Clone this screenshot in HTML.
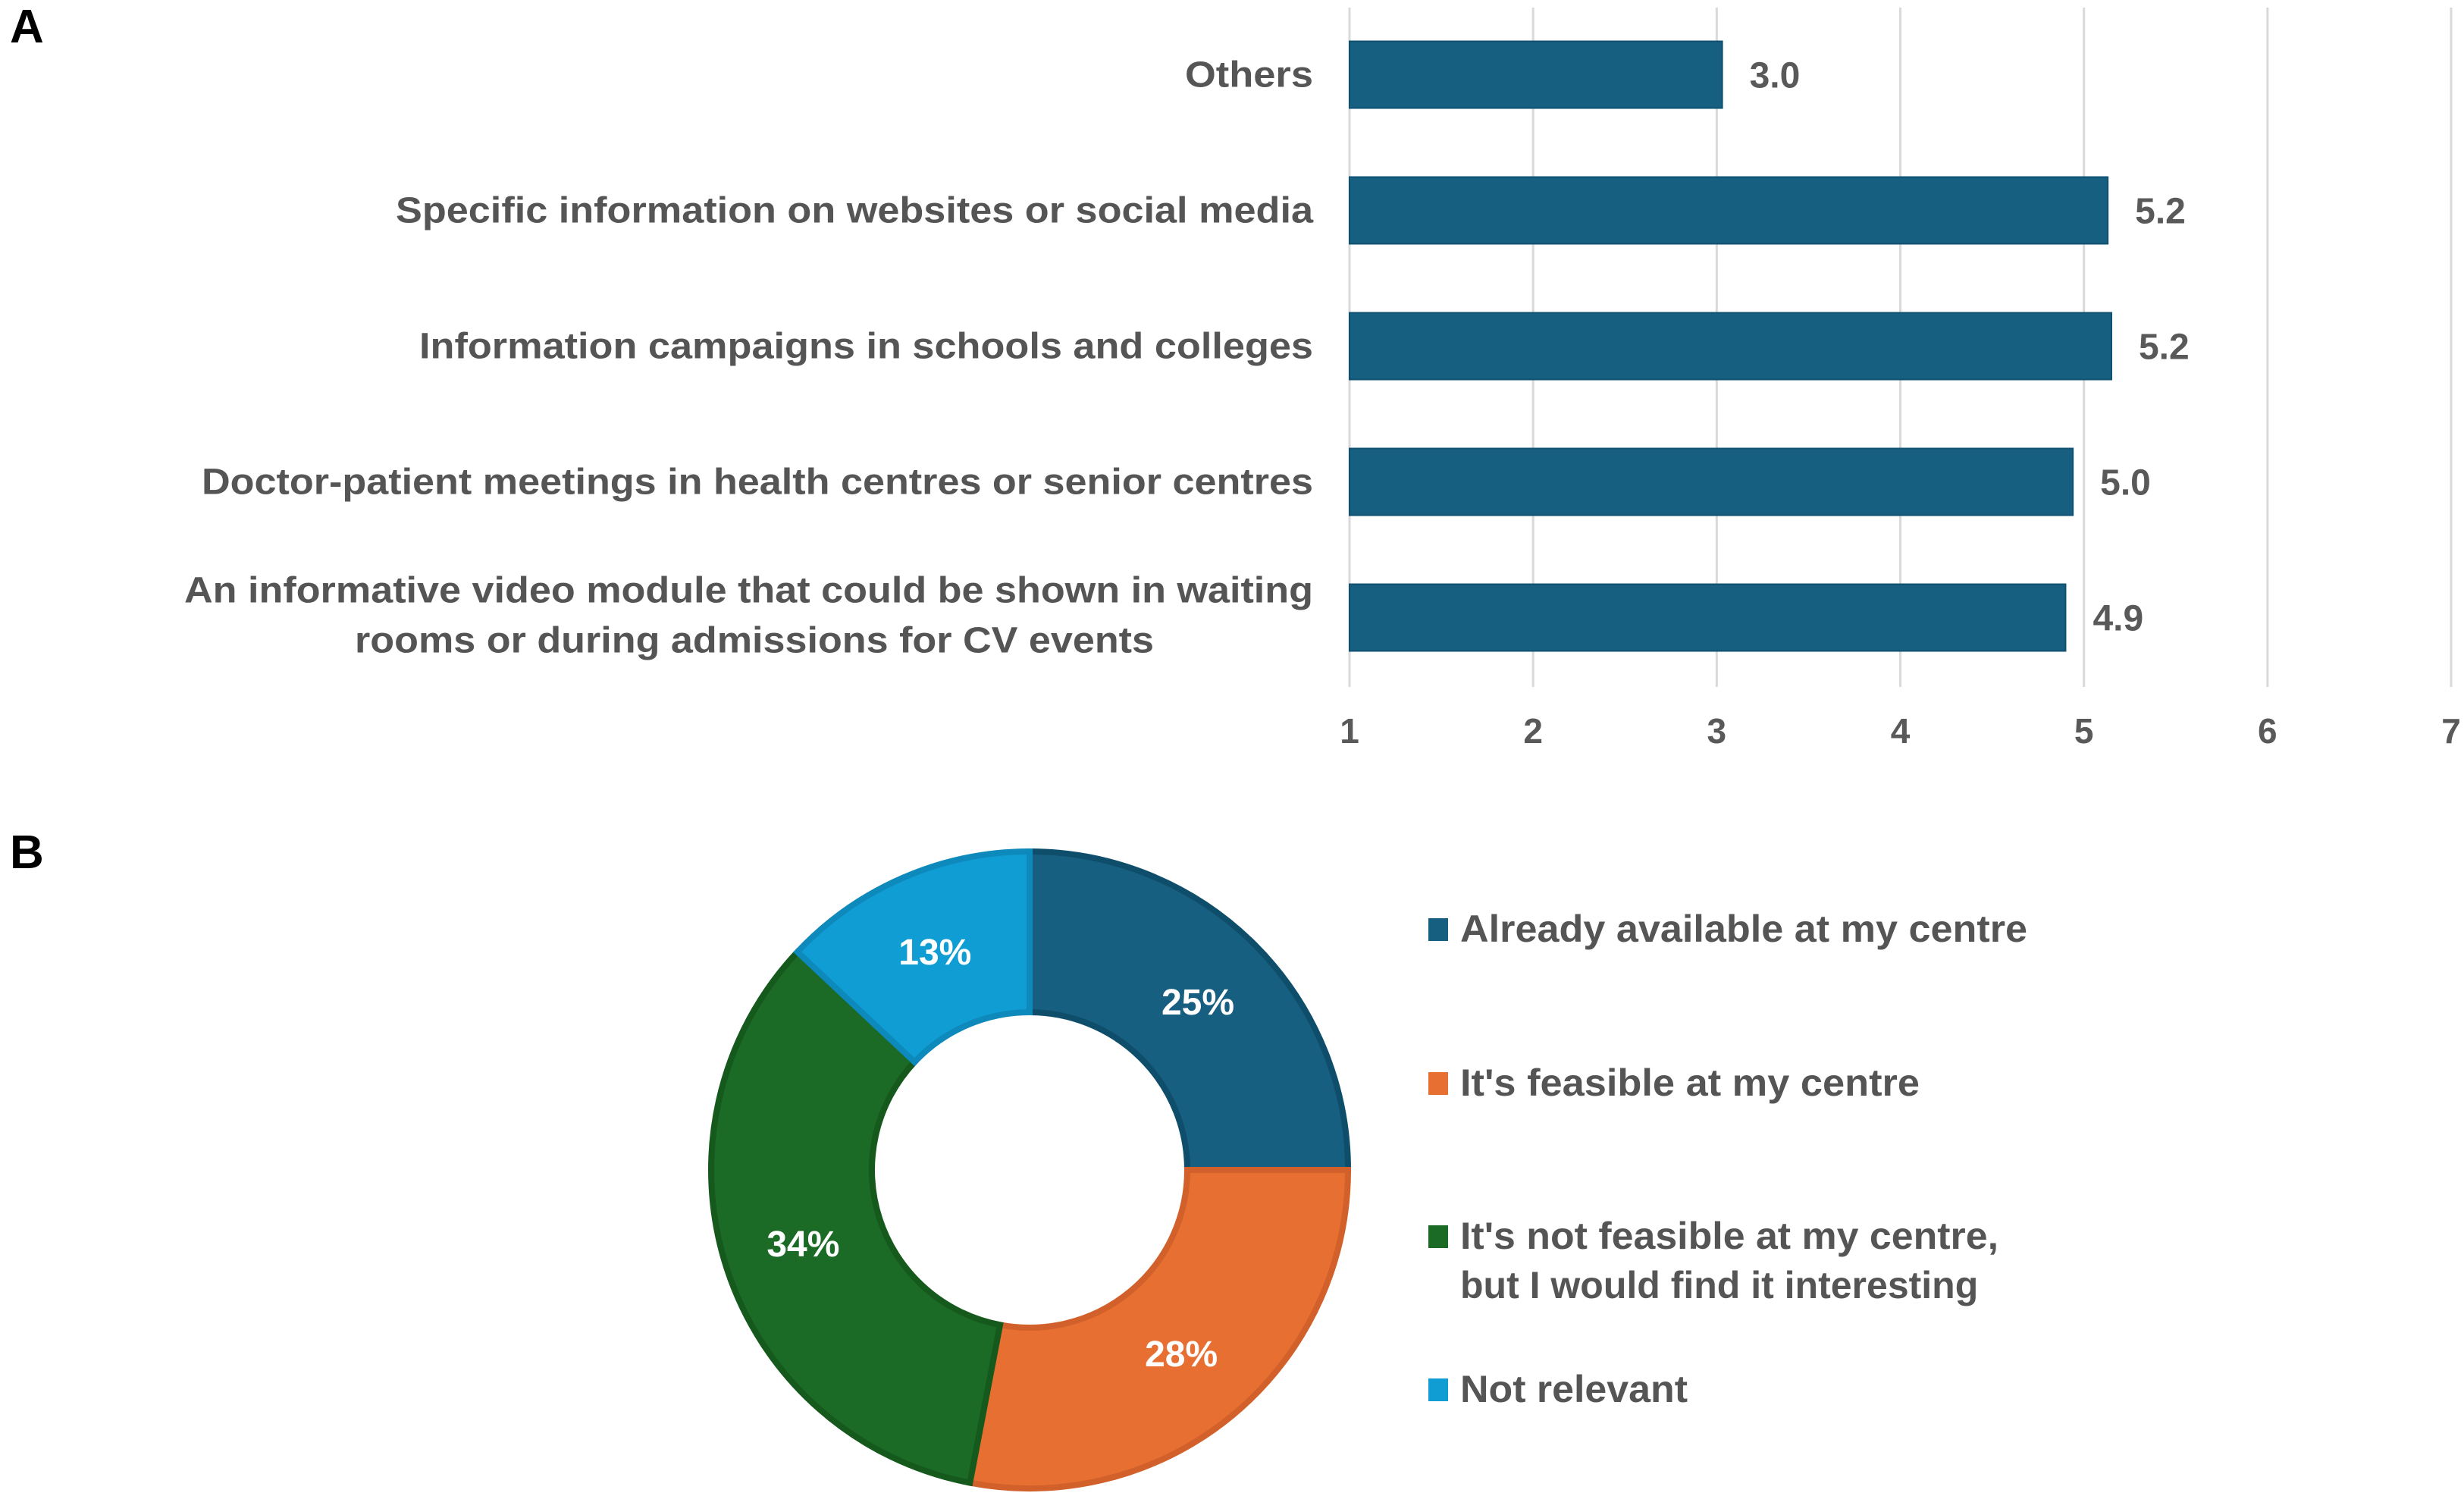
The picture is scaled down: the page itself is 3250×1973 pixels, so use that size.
<!DOCTYPE html>
<html><head><meta charset="utf-8"><style>
html,body{margin:0;padding:0;background:#fff;}
svg{display:block;font-family:"Liberation Sans",Arial,sans-serif;font-weight:bold;}
</style></head><body>
<svg id="chart" width="3250" height="1973" viewBox="0 0 3250 1973">
<text x="13" y="56" font-size="62" fill="#000">A</text>
<text x="13" y="1145" font-size="62" fill="#000">B</text>
<g id="bars"></g>
<g id="donut"></g>
</svg>
<script>
const categories = ["Others","Specific information on websites or social media","Information campaigns in schools and colleges","Doctor-patient meetings in health centres or senior centres","An informative video module that could be shown in waiting|rooms or during admissions for CV events"];
const values = [3.03, 5.13, 5.15, 4.94, 4.90];
const valueLabels = ["3.0","5.2","5.2","5.0","4.9"];
const xTicks = [1,2,3,4,5,6,7];
const shares = [25, 28, 34, 13];
const shareLabels = ["25%","28%","34%","13%"];
const legendLabels = ["Already available at my centre","It's feasible at my centre","It's not feasible at my centre,|  but I would find it interesting","Not relevant"];

const NS="http://www.w3.org/2000/svg";
function mk(tag,attrs,parent){const e=document.createElementNS(NS,tag);for(const k in attrs)e.setAttribute(k,attrs[k]);parent.appendChild(e);return e;}
const bars=document.getElementById('bars');
const x0=1780, x1=3233, xmin=1, xmax=7;
const xs=v=>x0+(v-xmin)/(xmax-xmin)*(x1-x0);
const rowTop=9, rowH=179, barH=88;
const yc=i=>rowTop+rowH*i+rowH/2;
xTicks.forEach(t=>{
  const l=mk('line',{x1:xs(t),x2:xs(t),y1:10,y2:906,stroke:'#d9d9d9','stroke-width':3},bars);
  
  
  const tx=mk('text',{x:xs(t),y:980,'font-size':46,fill:'#595959','text-anchor':'middle'},bars);
  tx.textContent=t;
  
  
});
const labelWidths=[169,1210,1179,1466,1489];
categories.forEach((c,i)=>{
  const y=yc(i);
  const r=mk('rect',{x:xs(1),y:y-barH/2,width:xs(values[i])-xs(1),height:barH,fill:'#175f80',stroke:'#0f5170','stroke-width':2},bars);
  
  
  const v=mk('text',{x:xs(values[i])+36,y:y+17,'font-size':48,fill:'#595959'},bars);
  v.textContent=valueLabels[i];
  
  
  const lines=c.split('|');
  if(lines.length===1){
    const t=mk('text',{x:1732,y:y+16,'font-size':48,fill:'#555','text-anchor':'end',textLength:labelWidths[i],lengthAdjust:'spacingAndGlyphs'},bars);
    t.textContent=c;
    
    
  } else {
    const t1=mk('text',{x:1732,y:y-20,'font-size':48,fill:'#555','text-anchor':'end',textLength:1489,lengthAdjust:'spacingAndGlyphs'},bars);
    t1.textContent=lines[0];
    
    
    const t2=mk('text',{x:995,y:y+46,'font-size':48,fill:'#555','text-anchor':'middle',textLength:1054,lengthAdjust:'spacingAndGlyphs'},bars);
    t2.textContent=lines[1];
    
    
  }
});
// donut
const donut=document.getElementById('donut');
const cx=1358, cy=1543, R=420, r0=208;
const colors=['#175f80','#e76f32','#1b6a25','#0f9dd4'];
const strokes=['#0f4e6b','#d2602a','#15591d','#0d8abb'];
const total=shares.reduce((a,b)=>a+b,0);
let acc=0;
const pt=(a,rad)=>[cx+rad*Math.sin(a),cy-rad*Math.cos(a)];
shares.forEach((s,i)=>{
  const a0=acc/total*2*Math.PI; acc+=s; const a1=acc/total*2*Math.PI;
  const large=(a1-a0)>Math.PI?1:0;
  const p0=pt(a0,R),p1=pt(a1,R),q1=pt(a1,r0),q0=pt(a0,r0);
  const d=`M${p0[0]},${p0[1]} A${R},${R} 0 ${large} 1 ${p1[0]},${p1[1]} L${q1[0]},${q1[1]} A${r0},${r0} 0 ${large} 0 ${q0[0]},${q0[1]} Z`;
  const p=mk('path',{d:d,fill:colors[i],stroke:strokes[i],'stroke-width':8,'stroke-linejoin':'miter'},donut);
  
  
  const m=pt((a0+a1)/2,(R+r0)/2);
  const t=mk('text',{x:m[0],y:m[1]+17,'font-size':48,fill:'#fff','text-anchor':'middle'},donut);
  t.textContent=shareLabels[i];
  
  
});
const legY=[1225,1428,1630,1832];
const legW=[748,606,710,300];
legendLabels.forEach((l,i)=>{
  const sq=mk('rect',{x:1884,y:legY[i]-14,width:26,height:30,fill:colors[i]},donut);
  
  
  const lines=l.split('|');
  lines.forEach((ln,j)=>{
    const t=mk('text',{x:1926,y:legY[i]+17+j*65,'font-size':50,fill:'#555','xml:space':'preserve'},donut);
    t.textContent=ln;
    if(j===0) t.setAttribute('textLength',legW[i]);
    t.setAttribute('lengthAdjust','spacingAndGlyphs');
    
    
  });
});
</script>
</body></html>
